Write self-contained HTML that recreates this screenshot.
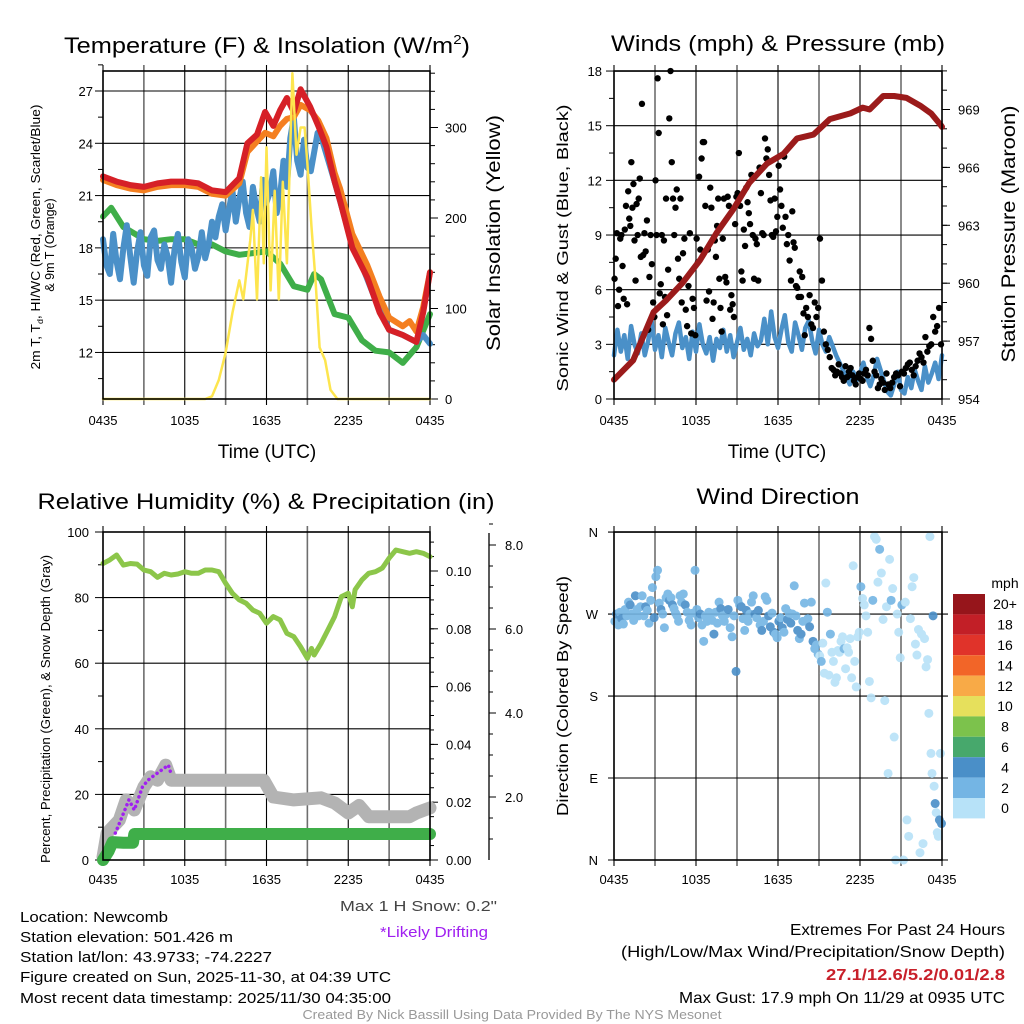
<!DOCTYPE html>
<html><head><meta charset="utf-8"><title>Newcomb Meteogram</title>
<style>
html,body{margin:0;padding:0;background:#fff;}
svg{display:block;font-family:"Liberation Sans",Arial,sans-serif;}
</style></head>
<body>
<svg id="chart" width="1024" height="1024" viewBox="0 0 1024 1024" xmlns="http://www.w3.org/2000/svg">
<rect x="0" y="0" width="1024" height="1024" fill="#fff"/>
<text x="267" y="53" font-size="22" text-anchor="middle" textLength="406" lengthAdjust="spacingAndGlyphs">Temperature (F) &amp; Insolation (W/m<tspan font-size="13" dy="-9">2</tspan><tspan dy="9">)</tspan></text>
<text x="778" y="51" font-size="22" text-anchor="middle" textLength="334" lengthAdjust="spacingAndGlyphs">Winds (mph) &amp; Pressure (mb)</text>
<text x="266" y="509" font-size="22" text-anchor="middle" textLength="457" lengthAdjust="spacingAndGlyphs">Relative Humidity (%) &amp; Precipitation (in)</text>
<text x="778" y="504" font-size="22" text-anchor="middle" textLength="163" lengthAdjust="spacingAndGlyphs">Wind Direction</text>
<text x="267" y="458" font-size="19" text-anchor="middle">Time (UTC)</text>
<text x="777" y="458" font-size="19" text-anchor="middle">Time (UTC)</text>
<text transform="translate(40,237) rotate(-90)" font-size="12.5" text-anchor="middle" textLength="265" lengthAdjust="spacingAndGlyphs">2m T, T<tspan font-size="8" dy="3">d</tspan><tspan dy="-3">, HI/WC (Red, Green, Scarlet/Blue)</tspan></text>
<text transform="translate(54,245) rotate(-90)" font-size="12.5" text-anchor="middle">&amp; 9m T (Orange)</text>
<text transform="translate(500,233) rotate(-90)" font-size="19" text-anchor="middle" textLength="236" lengthAdjust="spacingAndGlyphs">Solar Insolation (Yellow)</text>
<text transform="translate(568,248) rotate(-90)" font-size="16" text-anchor="middle" textLength="287" lengthAdjust="spacingAndGlyphs">Sonic Wind &amp; Gust (Blue, Black)</text>
<text transform="translate(1015,234) rotate(-90)" font-size="19" text-anchor="middle" textLength="257" lengthAdjust="spacingAndGlyphs">Station Pressure (Maroon)</text>
<text transform="translate(50,709) rotate(-90)" font-size="12.5" text-anchor="middle" textLength="308" lengthAdjust="spacingAndGlyphs">Percent, Precipitation (Green), &amp; Snow Depth (Gray)</text>
<text transform="translate(568,696) rotate(-90)" font-size="16" text-anchor="middle" textLength="240" lengthAdjust="spacingAndGlyphs">Direction (Colored By Speed)</text>
<g font-size="15">
<text x="20" y="922" textLength="148" lengthAdjust="spacingAndGlyphs">Location: Newcomb</text>
<text x="20" y="942" textLength="213" lengthAdjust="spacingAndGlyphs">Station elevation: 501.426 m</text>
<text x="20" y="962" textLength="252" lengthAdjust="spacingAndGlyphs">Station lat/lon: 43.9733; -74.2227</text>
<text x="20" y="982" textLength="371" lengthAdjust="spacingAndGlyphs">Figure created on Sun, 2025-11-30, at 04:39 UTC</text>
<text x="20" y="1003" textLength="371" lengthAdjust="spacingAndGlyphs">Most recent data timestamp: 2025/11/30 04:35:00</text>
</g>
<text x="497" y="911" font-size="15" fill="#444" text-anchor="end" textLength="157" lengthAdjust="spacingAndGlyphs">Max 1 H Snow: 0.2"</text>
<text x="488" y="937" font-size="15" fill="#a020f0" text-anchor="end" textLength="108" lengthAdjust="spacingAndGlyphs">*Likely Drifting</text>
<g font-size="16" text-anchor="end">
<text x="1005" y="935" textLength="215" lengthAdjust="spacingAndGlyphs">Extremes For Past 24 Hours</text>
<text x="1005" y="957" textLength="384" lengthAdjust="spacingAndGlyphs">(High/Low/Max Wind/Precipitation/Snow Depth)</text>
<text x="1005" y="980" fill="#c8202a" font-weight="bold" textLength="179" lengthAdjust="spacingAndGlyphs">27.1/12.6/5.2/0.01/2.8</text>
<text x="1005" y="1003" textLength="326" lengthAdjust="spacingAndGlyphs">Max Gust: 17.9 mph On 11/29 at 0935 UTC</text>
</g>
<text x="512" y="1019" font-size="12.5" fill="#999" text-anchor="middle" textLength="419" lengthAdjust="spacingAndGlyphs">Created By Nick Bassill Using Data Provided By The NYS Mesonet</text>
<g id="layer"></g>
</svg>
<script>
// ---------- data ----------
const timeTickLabels = ["0435","1035","1635","2235","0435"];
const redHours = [0,1,2,3,4,5,6,7,8,9,10,10.6,11.3,11.9,12.5,13.0,13.5,14.0,14.5,15.2,15.8,16.4,17.0,17.4,18.3,19.4,20.3,21.0,22.0,22.5,23.0,23.5,24];
const redVals = [22.1,21.8,21.6,21.5,21.7,21.8,21.8,21.7,21.3,21.2,22.0,24.0,24.5,25.8,25.0,25.9,26.6,25.8,27.1,26.1,25.0,23.8,21.8,20.7,18.0,16.3,14.3,13.3,13.0,12.8,12.6,14.3,16.6];
const orangeVals = [21.9,21.6,21.4,21.3,21.5,21.6,21.6,21.5,21.1,21.0,21.7,23.5,24.1,24.6,24.4,25.0,25.4,25.5,26.2,25.9,25.3,24.3,22.3,21.4,18.8,17.0,15.2,14.0,13.5,13.8,13.2,14.6,16.6];
const tdHours = [0,0.6,1.5,3,4,5,6,7,8,9,10,11,12,13,14,15,15.5,16,17,18,19,20,21,22,23,24];
const tdVals = [19.8,20.3,19.2,18.5,18.4,18.5,18.5,18.2,18.2,17.8,17.6,17.7,17.8,17.1,15.8,15.6,16.5,16.2,14.2,14.0,12.7,12.1,12.0,11.4,12.3,14.2];
// 15-minute HI/WC values from 0435 to ~2005 (hour 0 to 15.5)
const hiwcVals = [18.5,17.0,16.5,18.8,17.2,16.2,18.0,19.3,17.5,16.0,17.8,18.9,17.0,16.4,18.6,19.0,17.3,16.8,18.2,17.5,16.0,17.9,18.8,17.2,16.3,18.5,18.0,16.8,17.5,18.9,17.4,18.2,19.5,
18.6,19.8,20.5,19.0,20.2,21.3,19.5,20.8,21.8,20.0,19.2,21.5,20.3,19.5,21.9,20.6,21.2,22.4,20.0,21.0,23.0,21.5,24.3,25.5,23.0,22.2,24.2,22.6,22.4];
const hiwcTailHours = [15.75,16,17,18,19,20,21,22,23,23.5,24];
const hiwcTailVals = [24.6,24.4,21.8,19.0,17.0,15.0,13.3,13.0,12.6,13.0,12.5];
const solarHours = [0,7.5,8.0,8.5,9.0,9.5,10.0,10.3,10.8,11.0,11.3,11.6,11.8,12.0,12.3,12.6,12.9,13.2,13.5,13.9,14.2,14.5,14.8,15.0,15.3,15.6,15.9,16.3,16.7,17.2,24];
const solarVals = [0,0,3,21,51,95,131,110,175,209,110,245,150,278,120,230,110,240,150,360,270,300,300,260,190,130,57,43,10,0,0];
const tempTicks = [12,15,18,21,24,27];
const solarTicks = [0,100,200,300];

// 15-minute sonic wind (97 values)
const windVals = [2.4,3.8,2.6,3.5,2.2,4.0,3.0,2.5,3.6,2.4,3.2,4.3,2.7,3.5,2.3,3.9,3.1,
2.4,3.6,4.2,2.8,3.4,2.2,3.7,2.6,4.1,3.0,2.5,3.4,2.1,3.3,2.8,3.8,
2.6,3.5,2.3,3.1,3.9,2.7,3.3,2.4,3.6,2.9,3.2,4.4,3.0,4.8,3.4,2.8,
3.8,4.6,3.1,2.6,4.2,3.5,2.7,3.9,4.3,3.2,2.5,3.8,3.0,2.6,3.4,2.9,
2.4,2.0,1.6,1.2,0.8,1.5,1.0,1.4,2.0,1.2,0.7,1.3,2.2,1.6,1.0,0.4,
0.2,0.8,1.5,0.5,0.3,1.2,0.6,1.6,1.0,0.5,1.8,0.9,1.4,2.0,1.1,2.4];
const gustByHour = [
[6.6,7.7,9.1,5.1,6.0,8.8,9.0,7.3,5.5,9.3,10.6,5.2],
[11.4,9.9,9.5,13.0,10.5,11.8,8.7,6.5,10.7,9.0,11.0,12.1,7.8],
[16.2,7.9,9.1,8.1,9.8,3.8,6.7,9.0,7.4,5.3,4.5],
[12.0,9.0,17.6,14.6,5.8,6.3,9.0,4.1,8.7,5.6,11.0,4.6,7.1],
[15.4,18.0,13.0,11.0,9.0,10.5,11.5,7.7,6.6,11.0,5.3],
[8.0,8.8,4.9,4.0,6.2,9.1,3.6,5.5,5.0,3.5],
[8.8,7.5,12.2,8.2,13.2,14.1,14.1,10.6,5.4,8.2,5.9],
[11.6,10.5,4.4,5.3,8.7,7.8,9.5,11.0,6.6,5.0,3.7,8.8],
[11.0,6.7,6.4,11.1,10.6,4.9,5.7,5.2,4.5,9.6,11.1],
[11.3,13.5,10.6,7.0,6.5,9.3,8.4,11.6,10.8,10.2,9.6],
[12.3,9.0,6.6,8.8,8.5,6.5,12.7,11.3,9.1,9.0],
[14.3,13.2,13.7,12.3,10.9,9.0,8.9,11.0,9.2,10.0],
[12.8,11.5,10.6,9.4,13.3,10.0,8.5,9.0,7.6,6.5],
[10.3,8.6,8.3,6.2,6.1,5.6,7.0,5.6,6.7,4.7,3.5],
[5.0,4.5,5.7,4.1,3.9,5.3,4.5,5.0],
[8.8,6.5,3.7,3.0,2.7,2.3,1.7],
[1.6,1.3,1.5,1.9,1.4,1.2,1.0,1.8],
[1.2,1.5,1.7,1.3,1.0,0.8,1.2,1.4],
[1.1,1.0,1.4,1.6,1.3,3.9,3.3,2.1],
[1.5,1.3,0.6,0.8,1.1,0.9,0.5,1.4],
[0.8,0.6,0.9,1.2,1.4,1.3,0.7],
[1.5,1.4,1.7,1.9,2.0,1.6,1.3],
[1.8,2.1,2.5,2.3,2.0,3.4,2.6],
[2.9,3.0,4.5,3.7,4.0,5.0,3.0]];
const pressHours = [0,1.4,2.9,3.8,5.0,6.3,7.5,8.7,9.9,11.2,12.4,13.4,14.6,15.8,17.3,18.2,18.7,19.7,20.5,21.4,22.4,23.2,23.9,24];
const pressVals = [955.0,956.0,958.5,959.1,960.0,961.2,962.6,963.8,965.2,966.2,966.7,967.5,967.7,968.5,968.8,969.1,969.0,969.7,969.7,969.6,969.2,968.8,968.2,968.1];
const windTicks = [0,3,6,9,12,15,18];
const pressTicks = [954,957,960,963,966,969];

const rhHours = [0,0.5,1,1.5,2,2.5,3,3.5,4,4.5,5,5.5,6,6.5,7,7.5,8,8.5,9,9.5,10,10.5,11,11.5,12,12.5,13,13.5,14,14.5,15,15.3,15.5,16,16.5,17,17.5,18,18.3,18.5,19,19.5,20,20.5,21,21.5,22,22.5,23,23.5,24];
const rhVals = [90.4,91.5,93.0,89.9,90.4,90.2,88.4,87.9,86.2,87.4,86.9,87.2,87.9,87.4,87.4,88.4,88.4,87.9,84.4,81.3,79.3,78.3,76.2,75.2,72.2,74.2,73.2,69.1,68.1,65.0,61.5,64.5,62.5,66.0,70.1,74.2,80.3,81.3,77.2,82.4,85.4,87.4,87.9,89.0,92.0,94.5,94.0,93.5,94.0,93.5,92.5];
const snowHours = [0,0.3,1.2,1.7,2.3,3,3.5,4,4.6,5,6,8,10,11.8,12.5,14,16,17,18,18.8,19.5,21,22.5,23,24];
const snowVals = [0.57,1.14,1.45,1.93,1.69,2.24,2.48,2.40,2.76,2.40,2.40,2.40,2.40,2.40,2.00,1.93,1.98,1.86,1.62,1.80,1.53,1.53,1.53,1.62,1.74];
const driftHours = [0.9,1.3,1.6,1.9,2.3,2.9,3.3,3.7,4.8,5.0];
const driftVals = [1.14,1.45,1.69,1.93,1.69,2.24,2.40,2.50,2.76,2.55];
const precipHours = [0,0.4,0.7,1.5,2.2,2.3,24];
const precipVals = [0,0.003,0.0062,0.006,0.006,0.009,0.009];
const rhTicks = [0,20,40,60,80,100];
const precipTicks = ["0.00","0.02","0.04","0.06","0.08","0.10"];
const snowTicks = ["2.0","4.0","6.0","8.0"];

const dirByHour = [
[262,270,258,272,265,259,275,268],[283,280,270,263,290,275,268,278],[290,268,278,274,260,285,299,266],
[311,318,282,275,270,255,288,292],[285,288,280,276,271,268,262,290,283],[292,280,272,263,258,271,318],
[275,266,270,258,240,268,262,272],[270,263,248,272,260,283,276,268],[262,270,275,255,245,268,207],
[285,280,278,265,252,274,262,270],[283,290,270,266,274,258,252,262],[289,285,268,256,271,250,248,244],
[262,266,255,250,276,264,271,260],[270,301,268,252,243,248,262,282],[262,265,256,283,240,232,236,226],
[224,218,238,205,304,272,203,248,228],[218,195,200,230,228,240,245,232,210],[233,228,243,200,323,218,190,245,250],
[300,287,280,268,250,196,178,285],[355,352,305,341,315,264,175,278],[95,330,285,298,135,0,270,250,222],
[280,0,283,44,26,265,300,310],[237,225,253,8,248,18,243,212,220],[161,355,117,95,268,81,62,52,30,26,44,117,40]];
const spdByHour = [
[3,4.5,3,2.5,4.2,3,3,2.6],[3,4.5,3,2.5,4.8,3.2,3,2.5],[3,2.5,4.2,3,3,2.5,3,4.1],
[3,3,2.5,4.2,3,2.8,3,2.5],[4.3,3,4.5,3,2.5,3,3.5,2.6,3],[3,4.2,3,2.8,3,2.5,3],
[3,2.5,4.2,3,2.5,3,2.5,3],[3,2.5,4.3,3,2.6,3,4.1,3],[3,2.5,4.2,3,2.5,3,4.1],
[3,2.5,4.4,3,2.5,4.2,3,2.5],[3,2.5,4.1,3,4.3,2.5,4.5,3],[2.8,2.5,4.2,4.5,3,4.5,2.6,3],
[4.2,3,4.4,3,2.5,4.5,3,4.3],[3,2.5,3,4.5,3,4.2,2.6,2.5],[2.5,3,4.2,2.5,4.3,2.6,3,2.5],
[1.5,3,1.2,1.4,1.3,2.5,1.2,3,1.5],[1.2,1.4,1.3,1.5,1.2,1.3,1.4,2.3,1.2],[1.3,1.2,1.4,1.5,1.3,1.2,1.4,1.3,1.1],
[2.5,1.2,1.4,1.3,1.5,1.2,1.4,2.6],[1.3,1.2,1.5,2.8,1.4,1.3,1.2,1.5],[1.3,1.2,2.6,1.4,1.3,1.2,1.4,1.2,1.3],
[2.6,1.3,1.2,1.4,1.3,1.5,1.2,1.3],[1.3,1.2,1.5,1.3,1.4,1.2,1.3,1.2,1.4],[1.2,1.3,1.4,1.2,4.2,1.3,4.3,1.2,1.4,1.3,4.5,1.2,4.4]];
const dirTickLabels = ["N","E","S","W","N"];
const speedBinLabels = ["0","2","4","6","8","10","12","14","16","18","20+"];
const speedBinColors = ["#b7e2f8","#74b5e4","#4a8fc8","#47a86c","#7cc24c","#e6e05c","#f8aa47","#f26528","#e0332a","#c21f27","#96151b"];

// ---------- helpers ----------
const NS = "http://www.w3.org/2000/svg";
const layer = document.getElementById('layer');
function mk(tag, attrs, parent){ const e=document.createElementNS(NS,tag); for(const k in attrs) e.setAttribute(k,attrs[k]); (parent||layer).appendChild(e); return e; }
function line(x1,y1,x2,y2,stroke,w,parent){ return mk('line',{x1,y1,x2,y2,stroke,'stroke-width':w},parent); }
function txt(x,y,s,anchor,size,parent){ const t=mk('text',{x,y,'font-size':size||13,'text-anchor':anchor||'middle'},parent); t.textContent=s; return t; }
function pathFrom(xs,ys){ return xs.map((x,i)=>(i?'L':'M')+x.toFixed(1)+' '+ys[i].toFixed(1)).join(''); }

function panelFrame(P, name){
  const g = mk('g',{});
  
  
  for(let i=0;i<=8;i++){
    const x = P.x0 + i*(P.x1-P.x0)/8;
    const major = i%2===0;
    line(x,P.y0-6,x,P.y1+6, major?'#000':'#6e6e6e', major?1.1:1.6, g);
  }
  return g;
}
function timeLabels(P, y, name){
  const g = mk('g',{});
  
  
  timeTickLabels.forEach((s,i)=>{ txt(P.x0 + i*(P.x1-P.x0)/4, y, s, 'middle', 13, g); });
}
function box(P,name){
  const r = mk('rect',{x:P.x0,y:P.y0,width:P.x1-P.x0,height:P.y1-P.y0,fill:'none',stroke:'#000','stroke-width':1.6});
  
  
}
function series(xs, ys, color, w, name, parent){
  const p = mk('path',{d:pathFrom(xs,ys),fill:'none',stroke:color,'stroke-width':w,'stroke-linejoin':'round','stroke-linecap':'round'},parent);
  
  
  return p;
}

// ---------- Panel 1 ----------
const P1 = {x0:103,x1:430,y0:71,y1:399};
const x1h = h => P1.x0 + h/24*(P1.x1-P1.x0);
const yT = v => 91 + (27 - v)*17.43;
const yS = v => 399 - v*0.905;
panelFrame(P1,'temperature');
{
  const g = mk('g',{});
  
  
  tempTicks.forEach(v=>{ const y=yT(v); line(P1.x0,y,P1.x1,y,'#000',1.1,g); line(P1.x0-8,y,P1.x0,y,'#000',1,g); txt(P1.x0-10,y+5,String(v),'end',13,g); line(P1.x0-5,yT(v+1.5),P1.x0,yT(v+1.5),'#000',1,g); });
  line(P1.x0-5,yT(10.5),P1.x0,yT(10.5),'#000',1,g);
  const g2 = mk('g',{});
  
  
  solarTicks.forEach(v=>{ const y=yS(v); line(P1.x1,y,P1.x1+8,y,'#000',1,g2); txt(P1.x1+15,y+5,String(v),'start',13,g2); });
  for(let v=20; v<=360; v+=20){ line(P1.x1,yS(v),P1.x1+5,yS(v),'#000',1,g2); }
}
timeLabels(P1, 425, 'temperature-x-tick-labels');
series(tdHours.map(x1h), tdVals.map(yT), '#3fae49', 6, 'dewpoint-line');
{
  const hx = hiwcVals.map((v,i)=>x1h(i*0.25)).concat(hiwcTailHours.map(x1h));
  const hy = hiwcVals.map(yT).concat(hiwcTailVals.map(yT));
  series(hx, hy, '#4a90c8', 6, 'heat-index-wind-chill-line');
}
series(redHours.map(x1h), orangeVals.map(yT), '#f47f20', 6, 'temp-9m-line');
series(redHours.map(x1h), redVals.map(yT), '#d62027', 6, 'temp-2m-line');
series(solarHours.map(x1h), solarVals.map(yS), '#fde54e', 2.5, 'solar-insolation-line');
box(P1,'temperature-plot-area');

// ---------- Panel 2 ----------
const P2 = {x0:614,x1:942,y0:71,y1:399};
const x2h = h => P2.x0 + h/24*(P2.x1-P2.x0);
const yW = v => 399 - v*18.22;
const yP = v => 399 - (v-954)*19.3;
panelFrame(P2,'winds');
{
  const g = mk('g',{});
  
  
  windTicks.forEach(v=>{ const y=yW(v); line(P2.x0,y,P2.x1,y,'#000',1.1,g); line(P2.x0-8,y,P2.x0,y,'#000',1,g); txt(P2.x0-12,y+5,String(v),'end',13,g); if(v<18) line(P2.x0-5,yW(v+1.5),P2.x0,yW(v+1.5),'#000',1,g); });
  const g2 = mk('g',{});
  
  
  pressTicks.forEach(v=>{ const y=yP(v); line(P2.x1,y,P2.x1+8,y,'#000',1,g2); txt(P2.x1+16,y+5,String(v),'start',13,g2); });
  for(let v=955; v<=971; v+=1){ line(P2.x1,yP(v),P2.x1+5,yP(v),'#000',1,g2); }
}
timeLabels(P2, 425, 'winds-x-tick-labels');
series(windVals.map((v,i)=>x2h(i*0.25)), windVals.map(yW), '#4a90c8', 4.5, 'sonic-wind-line');
{
  const g = mk('g',{});
  
  
  gustByHour.forEach((arr,h)=>{ arr.forEach((v,j)=>{
    const c = mk('circle',{cx:x2h(h+(j+0.5)/arr.length), cy:yW(v), r:3.2, fill:'#000'}, g);
    
    
  }); });
}
series(pressHours.map(x2h), pressVals.map(yP), '#9b1b1b', 6, 'pressure-line');
box(P2,'winds-plot-area');

// ---------- Panel 3 ----------
const P3 = {x0:103,x1:430,y0:532,y1:860};
const x3h = h => P3.x0 + h/24*(P3.x1-P3.x0);
const yRH = v => 860 - v*3.28;
const yPr = v => 860 - v*2890;
const ySn = v => 881 - v*42;
panelFrame(P3,'humidity');
{
  const g = mk('g',{});
  
  
  rhTicks.forEach(v=>{ const y=yRH(v); line(P3.x0,y,P3.x1,y,'#000',1.1,g); line(P3.x0-8,y,P3.x0,y,'#000',1,g); txt(P3.x0-14,y+5,String(v),'end',13,g); if(v<100) line(P3.x0-5,yRH(v+10),P3.x0,yRH(v+10),'#000',1,g); });
  const g2 = mk('g',{});
  
  
  precipTicks.forEach(s=>{ const y=yPr(parseFloat(s)); line(P3.x1,y,P3.x1+8,y,'#000',1,g2); txt(P3.x1+16,y+5,s,'start',13,g2); });
  for(let v=0.005; v<0.114; v+=0.005){ line(P3.x1,yPr(v),P3.x1+4,yPr(v),'#000',1,g2); }
  const g3 = mk('g',{});
  
  
  line(489,533,489,860,'#000',1.3,g3);
  snowTicks.forEach(s=>{ const y=ySn(parseFloat(s)); line(489,y,496,y,'#000',1,g3); txt(505,y+5,s,'start',13,g3); });
  for(let v=1.0; v<=8.5; v+=0.5){ line(489,ySn(v),493,ySn(v),'#000',1,g3); }
}
timeLabels(P3, 884, 'humidity-x-tick-labels');
series(snowHours.map(x3h), snowVals.map(ySn), '#b3b3b3', 13, 'snow-depth-line');
{
  const p = series(driftHours.map(x3h), driftVals.map(ySn), '#a020f0', 3.5, 'drifting-markers');
  p.setAttribute('stroke-dasharray','0.1 5');
}
series(precipHours.map(x3h), precipVals.map(yPr), '#3fae49', 12, 'precipitation-line');
series(rhHours.map(x3h), rhVals.map(yRH), '#8cc64a', 5, 'relative-humidity-line');
box(P3,'humidity-plot-area');

// ---------- Panel 4 ----------
const P4 = {x0:614,x1:942,y0:532,y1:860};
const x4h = h => P4.x0 + h/24*(P4.x1-P4.x0);
const yD = v => 860 - v*0.911;
panelFrame(P4,'wind-direction');
{
  const g = mk('g',{});
  
  
  dirTickLabels.forEach((s,i)=>{ const y=yD(i*90); line(P4.x0-6,y,P4.x1+6,y,'#000',1.1,g); txt(P4.x0-16,y+5,s,'end',13,g); });
}
timeLabels(P4, 884, 'wind-direction-x-tick-labels');
function binColor(s){ let k=Math.min(10,Math.floor(s/2)); return speedBinColors[k]; }
{
  const g = mk('g',{opacity:0.9});
  
  
  dirByHour.forEach((arr,h)=>{ arr.forEach((d,j)=>{
    const c = mk('circle',{cx:x4h(h+(j+0.5)/arr.length), cy:yD(d), r:4.5, fill:binColor(spdByHour[h][j])}, g);
    
    
  }); });
}
box(P4,'wind-direction-plot-area');
{
  const g = mk('g',{});
  
  
  txt(1005,588,'mph','middle',14,g);
  const top=594, h=20.4;
  speedBinColors.slice().reverse().forEach((c,i)=>{
    const r = mk('rect',{x:953,y:top+i*h,width:32,height:h,fill:c},g);
    
    
  });
  speedBinLabels.slice().reverse().forEach((s,i)=>{ txt(1005,top+i*h+h/2+5,s,'middle',14,g); });
}
</script>
</body></html>
